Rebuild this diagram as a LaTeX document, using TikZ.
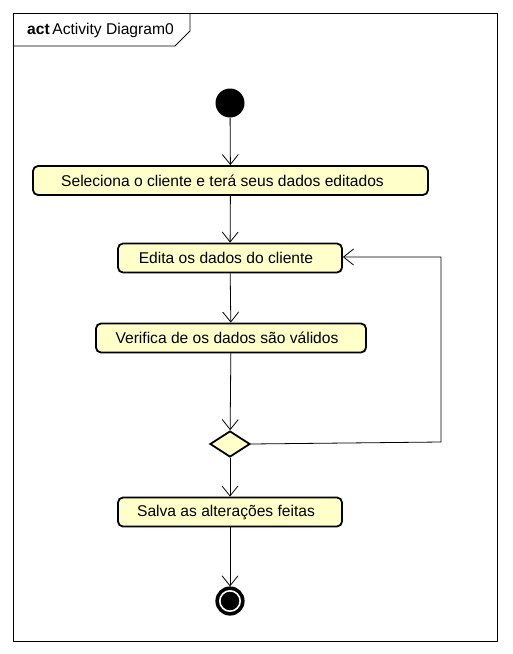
\documentclass[tikz,border=0pt]{standalone}
\usepackage{fontspec}
\setmainfont{Liberation Sans}
\usepackage{tikz}
\usetikzlibrary{arrows.meta,shapes.geometric}

\definecolor{actfill}{RGB}{255,255,202}

\begin{document}
\begin{tikzpicture}[x=1pt,y=-1pt,
	act/.style={draw,rounded corners=5pt,line width=1.8pt,fill=actfill,minimum height=29pt,inner sep=0pt,font=\fontsize{15.6}{18}\selectfont},
	lshift/.style={execute at begin node={\hspace*{-#1}}},
	flow/.style={line width=0.8pt,-{Straight Barb[length=10pt,width=16pt,line width=0.8pt]}},
	startnode/.style={circle,fill=black,minimum size=29pt,inner sep=0pt},
	endnode/.style={circle,draw=black,fill=black,line width=2.2pt,minimum size=27pt,inner sep=0pt,
		path picture={\draw[white,line width=1.6pt] (path picture bounding box.center) circle (10.2pt);}},
	decide/.style={diamond,draw,line width=1.8pt,fill=actfill,minimum width=40pt,minimum height=26pt,inner sep=0pt,aspect=1.5}]
	\useasboundingbox (0,0) rectangle (512,654);
	% frame
	\draw[line width=0.8pt] (13,13) rectangle (497,641);
	\draw[line width=0.8pt] (13,46) -- (175,46) -- (190,31) -- (190,13);
	\node[anchor=west,font=\fontsize{15.6}{18}\selectfont,inner sep=0pt] (title) at (27,30) {\textbf{act}\,Activity Diagram0};
	% nodes
	\node[startnode] (start) at (230,103) {};
	\node[act,lshift=16pt,minimum width=395pt] (sel) at (230.5,180.5) {Seleciona o cliente e terá seus dados editados};
	\node[act,lshift=8pt,minimum width=224pt] (edit) at (230,258) {Edita os dados do cliente};
	\node[act,lshift=8pt,minimum width=270pt] (check) at (231,338) {Verifica de os dados são válidos};
	\node[decide] (dec) at (230,444) {};
	\node[act,lshift=8pt,minimum width=224pt] (save) at (230,512) {Salva as alterações feitas};
	\node[endnode] (end) at (230,601) {};
	\coordinate (loopa) at (441,442);
	\coordinate (loopb) at (441,257);
	% connectors
	\draw[flow] (start) -- (sel);
	\draw[flow] (sel) -- (edit);
	\draw[flow] (edit) -- (check);
	\draw[flow] (check) -- (dec);
	\draw[flow] (dec) -- (save);
	\draw[flow] (save) -- (end);
	\draw[flow] (dec.east) -- (loopa) -- (loopb) -- (edit.east |- loopb);
\end{tikzpicture}
\end{document}
